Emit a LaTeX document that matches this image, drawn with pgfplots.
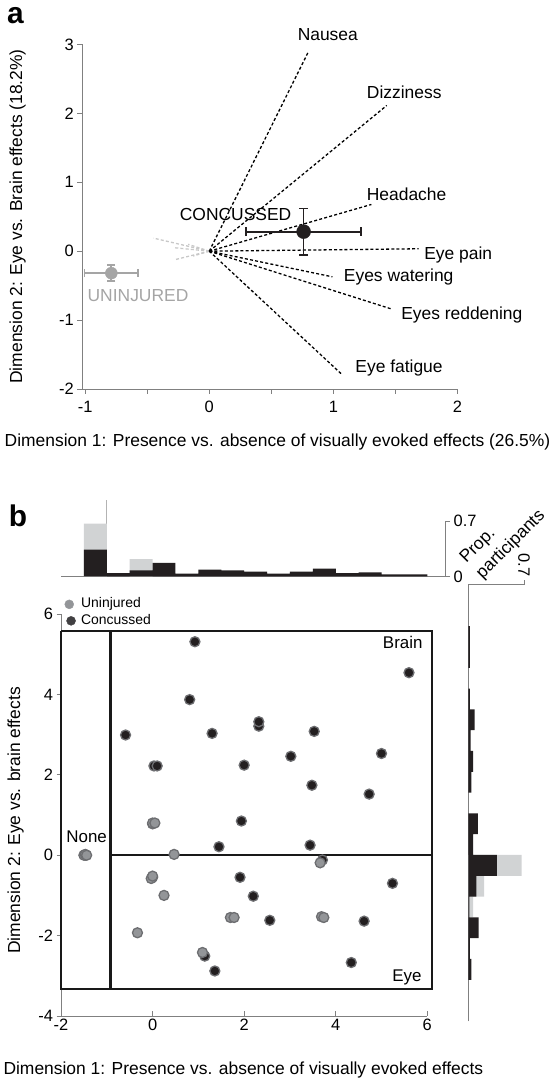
\documentclass[border=0pt]{standalone}
\usepackage{fontspec}
\setmainfont{Liberation Sans}
\usepackage{pgfplots}
\pgfplotsset{compat=1.18}
\definecolor{histblack}{HTML}{231F20}
\definecolor{histgray}{HTML}{D1D3D4}
\definecolor{ptgray}{HTML}{939598}
\definecolor{ptedge}{HTML}{6D6E71}
\definecolor{axgray}{HTML}{808080}
\definecolor{uninj}{HTML}{A5A5A5}
\definecolor{lightdash}{HTML}{C8C8C8}
\definecolor{legdark}{HTML}{414042}
\newcommand{\lab}{\fontsize{17.5}{20}\selectfont}
\newcommand{\tck}{\fontsize{16.5}{18}\selectfont}
\begin{document}
\begin{tikzpicture}
\useasboundingbox (0,0) rectangle (556bp,1088bp);
% ---------------- panel a ----------------
\begin{axis}[
  at={(82.3bp,699bp)}, anchor=south west, scale only axis,
  width=375.2bp, height=344.5bp,
  xmin=-1.023, xmax=2, ymin=-2, ymax=3,
  axis x line=bottom, axis y line=left,
  axis line style={-, draw=axgray, line width=0.8bp},
  xtick={-1,0,1,2}, minor xtick={-0.5,0.5,1.5}, ytick={-2,-1,0,1,2,3},
  tick style={draw=axgray, line width=0.8bp},
  tick align=outside, major tick length=5bp, minor tick length=5bp,
  tick label style={font=\tck},
  xticklabel style={yshift=-4bp},
  /pgf/number format/assume math mode=true,
  clip=false,
  blk/.style={black, line width=1.3bp, dash pattern=on 3bp off 2.2bp},
  gry/.style={lightdash, line width=1.3bp, dash pattern=on 3bp off 2.2bp},
]
\addplot[gry] coordinates {(0,0) (-0.45,0.19)};
\addplot[gry] coordinates {(0,0) (-0.28,0.05)};
\addplot[gry] coordinates {(0,0) (-0.27,-0.12)};
\addplot[gry] coordinates {(0,0) (-0.17,0.10)};
\addplot[gry] coordinates {(0,0) (-0.13,-0.07)};
\addplot[blk] coordinates {(0,0) (0.80,2.90)};
\addplot[blk] coordinates {(0,0) (1.43,2.115)};
\addplot[blk] coordinates {(0,0) (1.306,0.678)};
\addplot[blk] coordinates {(0,0) (1.686,0.035)};
\addplot[blk] coordinates {(0,0) (0.992,-0.372)};
\addplot[blk] coordinates {(0,0) (1.463,-0.836)};
\addplot[blk] coordinates {(0,0) (1.069,-1.789)};
\node[font=\lab] at (axis cs:0.955,3.145) {Nausea};
\node[font=\lab] at (axis cs:1.571,2.31) {Dizziness};
\node[font=\lab] at (axis cs:1.59,0.833) {Headache};
\node[font=\lab] at (axis cs:2.006,-0.048) {Eye pain};
\node[font=\lab] at (axis cs:1.526,-0.372) {Eyes watering};
\node[font=\lab] at (axis cs:2.035,-0.919) {Eyes reddening};
\node[font=\lab] at (axis cs:1.529,-1.693) {Eye fatigue};
\node[font=\lab] at (axis cs:0.212,0.533) {CONCUSSED};
\node[font=\lab, text=uninj] at (axis cs:-0.574,-0.643) {UNINJURED};
\addplot[only marks, mark=*, mark size=6bp, color=uninj,
  error bars/.cd, x dir=both, x explicit, y dir=both, y explicit,
  error mark=|,
  error bar style={line width=1.8bp, uninj},
  error mark options={line width=1.8bp, uninj, mark size=4bp}]
  coordinates {(-0.789,-0.319) +- (0.217,0.116)};
\addplot[only marks, mark=*, mark size=7bp, color=histblack,
  error bars/.cd, x dir=both, x explicit, y dir=both, y explicit,
  error mark=|,
  error bar style={line width=1.8bp, histblack},
  error mark options={line width=1.8bp, histblack, mark size=4.5bp}]
  coordinates {(0.76,0.284) +- (0.461,0.336)};
\end{axis}
\node[font=\lab] at (277.5bp,646bp) {Dimension 1: Presence vs. absence of visually evoked effects (26.5\%)};
\node[font=\lab, rotate=90] at (17.5bp,871.5bp) {Dimension 2: Eye vs. Brain effects (18.2\%)};
\node[font=\fontsize{30}{32}\selectfont\bfseries] at (15.5bp,1072bp) {a};
\node[font=\fontsize{30}{32}\selectfont\bfseries] at (18bp,572bp) {b};
% ---------------- panel b scatter ----------------
\begin{axis}[
  at={(61bp,72bp)}, anchor=south west, scale only axis,
  width=366.3bp, height=402bp,
  xmin=-2, xmax=6, ymin=-4, ymax=6,
  axis x line=bottom, axis y line=left,
  axis line style={-, draw=axgray, line width=0.8bp},
  xtick={-2,0,2,4,6}, ytick={-4,-2,0,2,4,6},
  tick style={draw=axgray, line width=0.8bp},
  xtick align=inside, ytick align=outside, major tick length=4.5bp,
  tick label style={font=\tck},
  /pgf/number format/assume math mode=true,
  clip=false,
  dk/.style={only marks, mark=*, mark size=5bp, mark options={fill=histblack, draw=ptedge, line width=1.3bp}},
  lg/.style={only marks, mark=*, mark size=5bp, mark options={fill=ptgray, draw=ptedge, line width=1.3bp}},
]
\addplot[black!90, line width=2bp] coordinates {(-2,5.58) (6.1,5.58) (6.1,-3.34) (-2,-3.34) (-2,5.58)};
\addplot[black!90, line width=3bp] coordinates {(-0.915,5.58) (-0.915,-3.34)};
\addplot[black!90, line width=1.8bp] coordinates {(-0.915,0) (6.1,0)};
\addplot[dk] coordinates {
(0.925,5.31) (0.81,3.87) (-0.59,2.99) (1.30,3.03) (2.32,3.21) (2.32,3.32)
(3.02,2.46) (0.03,2.22) (0.10,2.22) (2.0,2.24) (1.94,0.85) (5.60,4.54)
(3.53,3.08) (5.0,2.53) (3.48,1.74) (4.73,1.52) (1.45,0.21) (1.91,-0.55)
(2.20,-1.02) (2.56,-1.62) (1.14,-2.51) (1.36,-2.88) (3.44,0.25) (3.71,-0.12)
(5.24,-0.70) (4.62,-1.64) (4.34,-2.67) (-1.47,0.0) (0.0,-0.55) (0.0,0.78)
};
\addplot[lg] coordinates {
(-1.50,0.0) (-1.47,0.02) (-1.44,0.0) (0.0,0.80) (0.05,0.80) (0.47,0.02)
(-0.03,-0.58) (0.0,-0.52) (0.25,-1.0) (1.70,-1.55) (1.78,-1.55) (-0.33,-1.93)
(1.09,-2.42) (3.66,-0.19) (3.69,-1.53) (3.74,-1.55)
};
\addplot[only marks, mark=*, mark size=4.5bp, mark options={fill=ptgray, draw=ptgray}] coordinates {(-1.82,6.24)};
\addplot[only marks, mark=*, mark size=4.5bp, mark options={fill=legdark, draw=legdark}] coordinates {(-1.78,5.83)};
\node[anchor=west, inner sep=0pt, font=\fontsize{14}{16}\selectfont] at (axis cs:-1.565,6.24) {Uninjured};
\node[anchor=west, inner sep=0pt, font=\fontsize{14}{16}\selectfont] at (axis cs:-1.565,5.86) {Concussed};
\node[font=\fontsize{17}{20}\selectfont] at (axis cs:-1.44,0.47) {None};
\node[anchor=east, inner sep=0pt, font=\fontsize{17}{20}\selectfont] at (axis cs:5.90,5.28) {Brain};
\node[anchor=east, inner sep=0pt, font=\fontsize{17}{20}\selectfont] at (axis cs:5.88,-3.03) {Eye};
\end{axis}
\node[anchor=west, font=\lab] at (0bp,18bp) {Dimension 1: Presence vs. absence of visually evoked effects};
\node[font=\lab, rotate=90] at (15.5bp,267.5bp) {Dimension 2: Eye vs. brain effects};
% ---------------- top histogram ----------------
\begin{axis}[
  at={(61bp,511.6bp)}, anchor=south west, scale only axis,
  width=384.7bp, height=55.2bp,
  xmin=-2, xmax=6.401, ymin=0, ymax=0.7,
  axis x line=bottom, axis y line=right,
  axis line style={-, draw=axgray, line width=0.8bp},
  xtick=\empty, ytick={0,0.7},
  tick style={draw=axgray, line width=0.8bp},
  ytick align=outside, major tick length=4.5bp,
  tick label style={font=\tck},
  /pgf/number format/assume math mode=true,
  clip=false,
]
\addplot[axgray!60, line width=0.6bp] coordinates {(-1,0) (-1,0.97)};
\addplot[ybar, bar width=0.5, bar shift=0pt, fill=histgray, draw=none] coordinates {(-1.25,0.67) (-0.25,0.22)};
\addplot[ybar, bar width=0.5, bar shift=0pt, fill=histblack, draw=none] coordinates {
(-1.25,0.34) (-0.75,0.04) (-0.25,0.076) (0.25,0.17) (0.75,0.034) (1.25,0.085)
(1.75,0.076) (2.25,0.06) (2.75,0.034) (3.25,0.06) (3.75,0.098) (4.25,0.042)
(4.75,0.05) (5.25,0.025) (5.75,0.025)};
\end{axis}
% ---------------- right histogram ----------------
\begin{axis}[
  at={(468.3bp,66.6bp)}, anchor=south west, scale only axis,
  width=55.7bp, height=436.8bp,
  xmin=0, xmax=0.7, ymin=-4, ymax=6.5,
  axis x line=top, axis y line=left,
  axis line style={-, draw=axgray, line width=0.8bp},
  ytick=\empty, xtick={0.7},
  tick style={draw=axgray, line width=0.8bp},
  xtick align=outside, major tick length=4.5bp,
  tick label style={font=\tck},
  xticklabel style={rotate=-90, anchor=east},
  /pgf/number format/assume math mode=true,
  clip=false,
]
\addplot[xbar, bar width=0.5, bar shift=0pt, fill=histgray, draw=none] coordinates {(0.67,-0.25) (0.20,-0.75) (0.06,-1.25)};
\addplot[xbar, bar width=0.5, bar shift=0pt, fill=histblack, draw=none] coordinates {
(0.02,5.25) (0.02,4.75) (0.02,3.75) (0.08,3.25) (0.03,2.75) (0.06,2.25) (0.04,1.75)
(0.12,0.75) (0.06,0.25) (0.36,-0.25) (0.10,-0.75) (0.015,-1.25) (0.13,-1.75)
(0.02,-2.25) (0.04,-2.75)};
\end{axis}
\node[font=\fontsize{17.5}{23}\selectfont, rotate=45, align=left] at (503bp,551bp) {Prop.\\participants};
\end{tikzpicture}
\end{document}
